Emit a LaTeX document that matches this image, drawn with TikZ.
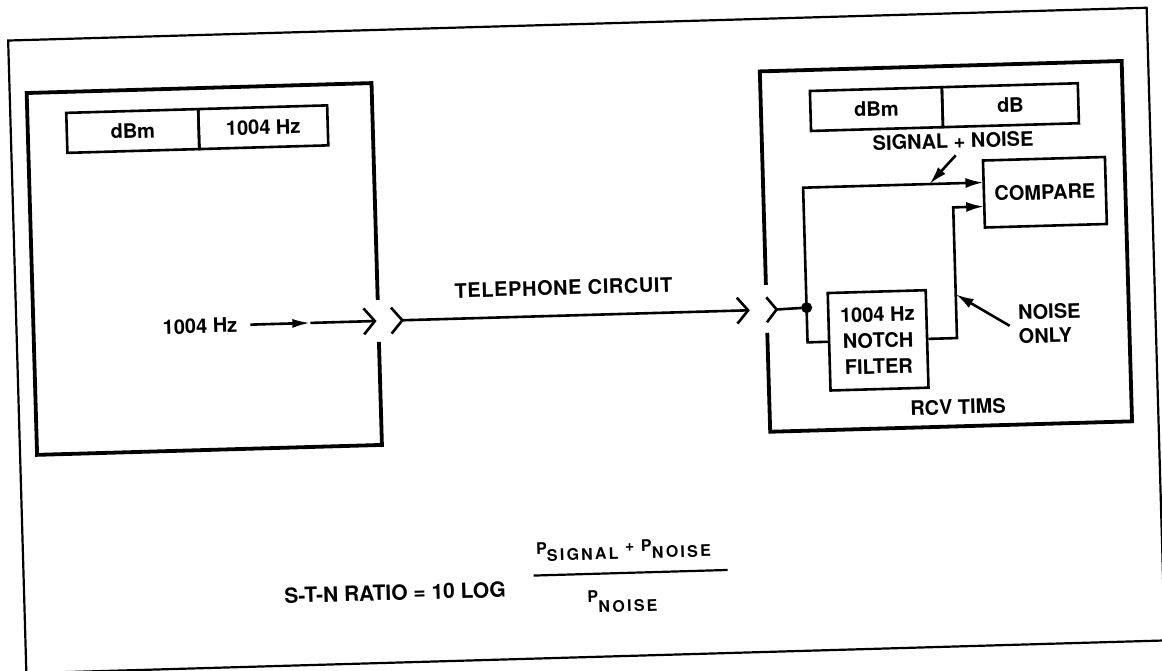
\documentclass[tikz,border=0pt]{standalone}
\usepackage{fontspec}
\setmainfont{TeX Gyre Heros}
\newfontfamily\hvwide[LetterSpace=14]{TeX Gyre Heros}
\newfontfamily\hvtel[LetterSpace=3]{TeX Gyre Heros}
\usetikzlibrary{arrows.meta}
\newcommand\lblsize{\fontsize{20}{24}\selectfont\bfseries}
\newcommand\formsize{\hvwide\fontsize{16}{19}\selectfont\bfseries}
\begin{document}
\begin{tikzpicture}[x=1pt,y=-1pt,
  frame/.style={line width=2.2pt},
  mainbox/.style={line width=3.8pt},
  cell/.style={draw, line width=2.6pt, inner sep=0pt, minimum height=40pt, font=\lblsize},
  blk/.style={draw, line width=2.6pt, inner sep=0pt, font=\fontsize{20}{26}\selectfont\bfseries, align=center},
  wire/.style={line width=2.6pt},
  lbl/.style={inner sep=0pt, font=\lblsize},
  tip/.style={-{Latex[length=18pt,width=10pt]}},
]
\useasboundingbox (0,0) rectangle (1162,671);
\begin{scope}[rotate around={1.65:(586.5,340.5)}, transform shape]
% outer frame
\draw[frame] (17,24) rectangle (1156,657);
% left box with gap
\coordinate (LgT) at (379,294);
\coordinate (LgB) at (379,336);
\draw[mainbox] (LgT) -- (379,77) -- (34,77) -- (34,439) -- (379,439) -- (LgB);
% right box with gap
\coordinate (RgT) at (767.5,290);
\coordinate (RgB) at (767.5,338);
\draw[mainbox] (RgT) -- (767.5,76.5) -- (1129.5,76.5) -- (1129.5,437) -- (767.5,437) -- (RgB);
% tables
\node[cell, minimum width=132pt] (ldbm) at (139,118) {dBm};
\node[cell, minimum width=129pt] (lhz) at (269.5,118) {1004 Hz};
\node[cell, minimum width=132pt] (rdbm) at (883,117.5) {dBm};
\node[cell, minimum width=136pt] (rdb) at (1017,117.5) {dB};
% blocks
\node[blk, minimum width=122pt, minimum height=67pt] (cmp) at (1049,205.5) {COMPARE};
\node[blk, minimum width=98pt, minimum height=97.5pt] (notch) at (878,348.75) {1004 Hz\\NOTCH\\FILTER};
\node[circle, fill, inner sep=0pt, minimum size=11pt] (dot) at (807.5,314) {};
% internal wiring
\coordinate (sigIn) at (988,194);
\coordinate (noiIn) at (988,218);
\coordinate (noiC) at (957,218);
\coordinate (sigTip) at (934,194);
\coordinate (noiTip) at (957,305);
\draw[wire,tip] (dot.center) |- (sigIn);
\draw[wire] (dot.center) |- (notch.west);
\draw[wire,tip] (notch.east) -| (noiC) -- (noiIn);
% labels in right box
\node[lbl] (sn) at (958.7,151.5) {SIGNAL + NOISE};
\coordinate (snStart) at (961,166);
\draw[wire,tip] (snStart) -- (sigTip);
\node[lbl, align=left, anchor=west] (no) at (1018.5,337) {NOISE\\ONLY};
\coordinate (noStart) at (1010,338);
\draw[wire,tip] (noStart) -- (noiTip);
\node[lbl] (rcv) at (956,417.5) {RCV TIMS};
% telephone circuit
\coordinate (plugL) at (375.5,315);
\coordinate (jackL) at (403,315);
\coordinate (telTip) at (749,315);
\coordinate (jackR) at (777.5,315);
\node[lbl, font=\hvtel\lblsize] (tel) at (565,287) {TELEPHONE CIRCUIT};
\draw[wire] (jackL) -- (telTip);
\draw[wire] (telTip) ++(-11,-13) -- (telTip) -- ++(-11,13);
\draw[wire] (jackL) ++(-11,-13) -- (jackL) -- ++(-11,13);
\draw[wire] (plugL) ++(-11,-13) -- (plugL) -- ++(-11,13);
\draw[wire] (jackR) ++(-10,-12.5) -- (jackR) -- ++(-10,12.5);
\draw[wire] (jackR) -- (dot.center);
% input
\node[lbl, anchor=east] (in) at (238,315) {1004 Hz};
\coordinate (inMid) at (311,315);
\draw[wire, shorten <=13pt, -{Latex[length=18pt,width=9pt]}] (in.east) -- (inMid);
\draw[wire] (inMid) -- (plugL);
% formula
\node[anchor=west, inner sep=0pt, font=\fontsize{21}{25}\selectfont\bfseries] (stn) at (277,587) {S-T-N RATIO = 10 LOG};
\coordinate (fracL) at (527,574);
\coordinate (fracR) at (721,574);
\draw[line width=2.2pt] (fracL) -- (fracR);
\node[anchor=base west, inner sep=0pt, font=\formsize] (num) at (530,553) {P\raisebox{-7pt}{SIGNAL} + P\raisebox{-7pt}{NOISE}};
\node[anchor=base west, inner sep=0pt, font=\formsize] (den) at (580,602) {P\raisebox{-11pt}{NOISE}};
\end{scope}
\end{tikzpicture}
\end{document}
